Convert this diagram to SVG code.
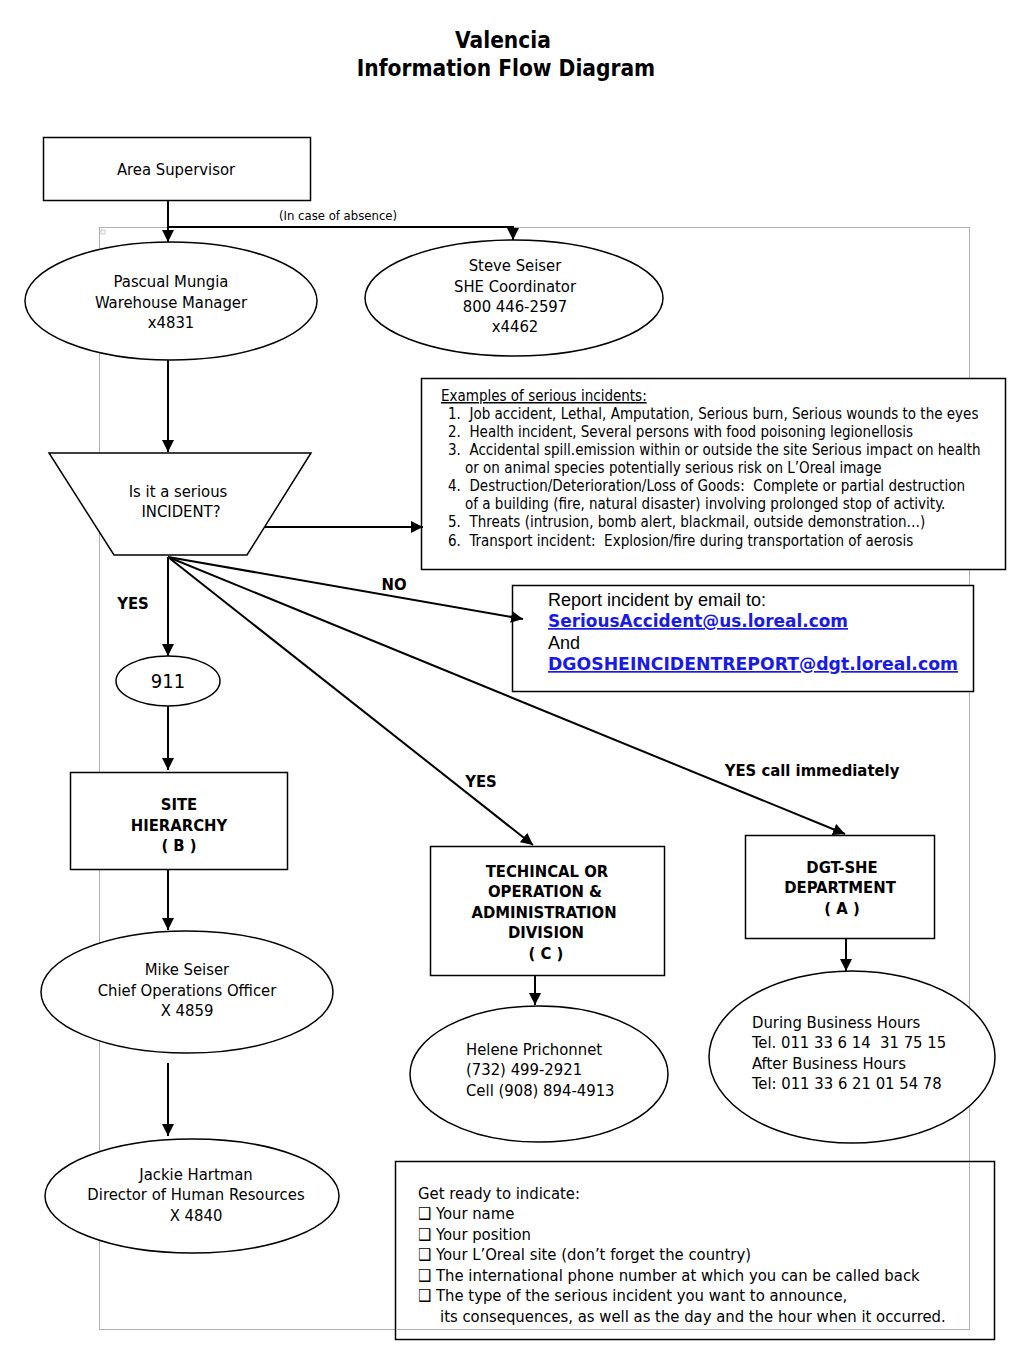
<svg xmlns="http://www.w3.org/2000/svg" width="1024" height="1365" viewBox="0 0 1024 1365">
<defs>
<marker id="ah" viewBox="0 0 10 10" refX="10" refY="5" markerWidth="6" markerHeight="6" markerUnits="strokeWidth" orient="auto">
<path d="M0,0 L10,5 L0,10 Z" fill="#000"/>
</marker>
<style>
.t{font-family:"DejaVu Sans Condensed","DejaVu Sans","Liberation Sans",sans-serif;font-stretch:condensed;font-size:16.5px;fill:#000;white-space:pre}
.c{text-anchor:middle}
.b{font-weight:bold}
.s{font-size:15px}
.a{font-family:"Liberation Sans",Arial,sans-serif;font-size:18px;fill:#000}
.l{font-family:"DejaVu Sans","Liberation Sans",sans-serif;font-size:17px;font-weight:bold;fill:#1a1ae6;text-decoration:underline}
.shape{fill:#fff;stroke:#000;stroke-width:1.5}
.conn{fill:none;stroke:#000;stroke-width:2}
.arr{marker-end:url(#ah)}
</style>
</defs>
<rect width="1024" height="1365" fill="#fff"/>
<rect x="99.5" y="227.5" width="870" height="1102" fill="none" stroke="#b0b0b0" stroke-width="1"/>
<rect x="101" y="230" width="4" height="4" fill="none" stroke="#999" stroke-width="0.5"/>

<g id="title">
<text class="t b c" x="503" y="48" style="font-size:22.5px">Valencia</text>
<text class="t b c" x="506" y="76" style="font-size:22.5px">Information Flow Diagram</text>
</g>

<g id="area-supervisor">
<rect class="shape" x="43.5" y="137.5" width="267" height="63"/>
<text class="t c" x="176" y="175">Area Supervisor</text>
</g>

<g id="pascual">
<ellipse class="shape" cx="171" cy="301" rx="146" ry="59"/>
<text class="t c" x="171" y="287">Pascual Mungia</text>
<text class="t c" x="171" y="308">Warehouse Manager</text>
<text class="t c" x="171" y="328">x4831</text>
</g>

<g id="steve">
<ellipse class="shape" cx="514" cy="298" rx="149" ry="58"/>
<text class="t c" x="515" y="271">Steve Seiser</text>
<text class="t c" x="515" y="292">SHE Coordinator</text>
<text class="t c" x="515" y="312">800 446-2597</text>
<text class="t c" x="515" y="332">x4462</text>
</g>

<g id="decision">
<polygon class="shape" points="49,453 311,453 247,555 114,555"/>
<text class="t c" x="178" y="497">Is it a serious</text>
<text class="t c" x="181" y="517">INCIDENT?</text>
</g>

<g id="examples">
<rect class="shape" x="421.5" y="378.5" width="584" height="191"/>
<text class="t s" x="441" y="401" text-decoration="underline">Examples of serious incidents:</text>
<text class="t s" x="448" y="419">1.  Job accident, Lethal, Amputation, Serious burn, Serious wounds to the eyes</text>
<text class="t s" x="448" y="437">2.  Health incident, Several persons with food poisoning legionellosis</text>
<text class="t s" x="448" y="455">3.  Accidental spill.emission within or outside the site Serious impact on health</text>
<text class="t s" x="465" y="473">or on animal species potentially serious risk on L’Oreal image</text>
<text class="t s" x="448" y="491">4.  Destruction/Deterioration/Loss of Goods:  Complete or partial destruction</text>
<text class="t s" x="465" y="509">of a building (fire, natural disaster) involving prolonged stop of activity.</text>
<text class="t s" x="448" y="527">5.  Threats (intrusion, bomb alert, blackmail, outside demonstration…)</text>
<text class="t s" x="448" y="546">6.  Transport incident:  Explosion/fire during transportation of aerosis</text>
</g>

<g id="report">
<rect class="shape" x="512.5" y="585.5" width="461" height="106"/>
<text class="a" x="548" y="606">Report incident by email to:</text>
<text class="l" x="548" y="627" textLength="300" lengthAdjust="spacingAndGlyphs">SeriousAccident@us.loreal.com</text>
<text class="a" x="548" y="649">And</text>
<text class="l" x="548" y="670" textLength="410" lengthAdjust="spacingAndGlyphs">DGOSHEINCIDENTREPORT@dgt.loreal.com</text>
</g>

<g id="n911">
<ellipse class="shape" cx="168" cy="681" rx="52" ry="25"/>
<text class="t c" x="168" y="688" style="font-size:20px">911</text>
</g>

<g id="site-hierarchy">
<rect class="shape" x="70.5" y="772.5" width="217" height="97"/>
<text class="t b c" x="179" y="810">SITE</text>
<text class="t b c" x="179" y="831">HIERARCHY</text>
<text class="t b c" x="179" y="851">( B )</text>
</g>

<g id="mike">
<ellipse class="shape" cx="187" cy="992" rx="146" ry="61"/>
<text class="t c" x="187" y="975">Mike Seiser</text>
<text class="t c" x="187" y="996">Chief Operations Officer</text>
<text class="t c" x="187" y="1016">X 4859</text>
</g>

<g id="jackie">
<ellipse class="shape" cx="192" cy="1196" rx="147" ry="57"/>
<text class="t c" x="196" y="1180">Jackie Hartman</text>
<text class="t c" x="196" y="1200">Director of Human Resources</text>
<text class="t c" x="196" y="1221">X 4840</text>
</g>

<g id="technical">
<rect class="shape" x="430.5" y="846.5" width="234" height="129"/>
<text class="t b c" x="547" y="877">TECHINCAL OR</text>
<text class="t b c" x="545" y="897">OPERATION &amp;</text>
<text class="t b c" x="544" y="918">ADMINISTRATION</text>
<text class="t b c" x="546" y="938">DIVISION</text>
<text class="t b c" x="546" y="959">( C )</text>
</g>

<g id="helene">
<ellipse class="shape" cx="539" cy="1074" rx="129" ry="68"/>
<text class="t" x="466" y="1055">Helene Prichonnet</text>
<text class="t" x="466" y="1075">(732) 499-2921</text>
<text class="t" x="466" y="1096">Cell (908) 894-4913</text>
</g>

<g id="dgt-she">
<rect class="shape" x="745.5" y="835.5" width="189" height="103"/>
<text class="t b c" x="842" y="873">DGT-SHE</text>
<text class="t b c" x="840" y="893">DEPARTMENT</text>
<text class="t b c" x="842" y="914">( A )</text>
</g>

<g id="dgt-phones">
<ellipse class="shape" cx="852" cy="1057" rx="143" ry="86"/>
<text class="t" x="752" y="1028">During Business Hours</text>
<text class="t" x="752" y="1048">Tel. 011 33 6 14  31 75 15</text>
<text class="t" x="752" y="1069">After Business Hours</text>
<text class="t" x="752" y="1089">Tel: 011 33 6 21 01 54 78</text>
</g>

<g id="get-ready">
<rect class="shape" x="395.5" y="1161.5" width="599" height="178"/>
<line x1="969.5" y1="1162" x2="969.5" y2="1330" stroke="#b0b0b0" stroke-width="1"/>
<line x1="396" y1="1329.5" x2="969.5" y2="1329.5" stroke="#b0b0b0" stroke-width="1"/>
<text class="t" x="418" y="1199">Get ready to indicate:</text>
<text class="t" x="418" y="1219">❑ Your name</text>
<text class="t" x="418" y="1240">❑ Your position</text>
<text class="t" x="418" y="1260">❑ Your L’Oreal site (don’t forget the country)</text>
<text class="t" x="418" y="1281">❑ The international phone number at which you can be called back</text>
<text class="t" x="418" y="1301">❑ The type of the serious incident you want to announce,</text>
<text class="t" x="440" y="1322">its consequences, as well as the day and the hour when it occurred.</text>
</g>

<g id="connectors">
<path class="conn arr" d="M168,200 V242"/>
<path class="conn arr" d="M168,227 H513 V240"/>
<path class="conn arr" d="M168,360 V452"/>
<path class="conn arr" d="M265,527 H423"/>
<path class="conn arr" d="M168,557 V656"/>
<path class="conn arr" d="M168,557 L523,619"/>
<path class="conn arr" d="M168,557 L533,845"/>
<path class="conn arr" d="M168,557 L845,834"/>
<path class="conn arr" d="M168,706 V770"/>
<path class="conn arr" d="M168,870 V930"/>
<path class="conn arr" d="M168,1063 V1136"/>
<path class="conn arr" d="M535,976 V1005"/>
<path class="conn arr" d="M846,939 V971"/>
<text class="t c" x="338" y="220" style="font-size:13px">(In case of absence)</text>
<text class="t b c" x="394" y="590">NO</text>
<text class="t b c" x="133" y="609">YES</text>
<text class="t b c" x="481" y="787">YES</text>
<text class="t b c" x="812" y="776">YES call immediately</text>
</g>
</svg>
